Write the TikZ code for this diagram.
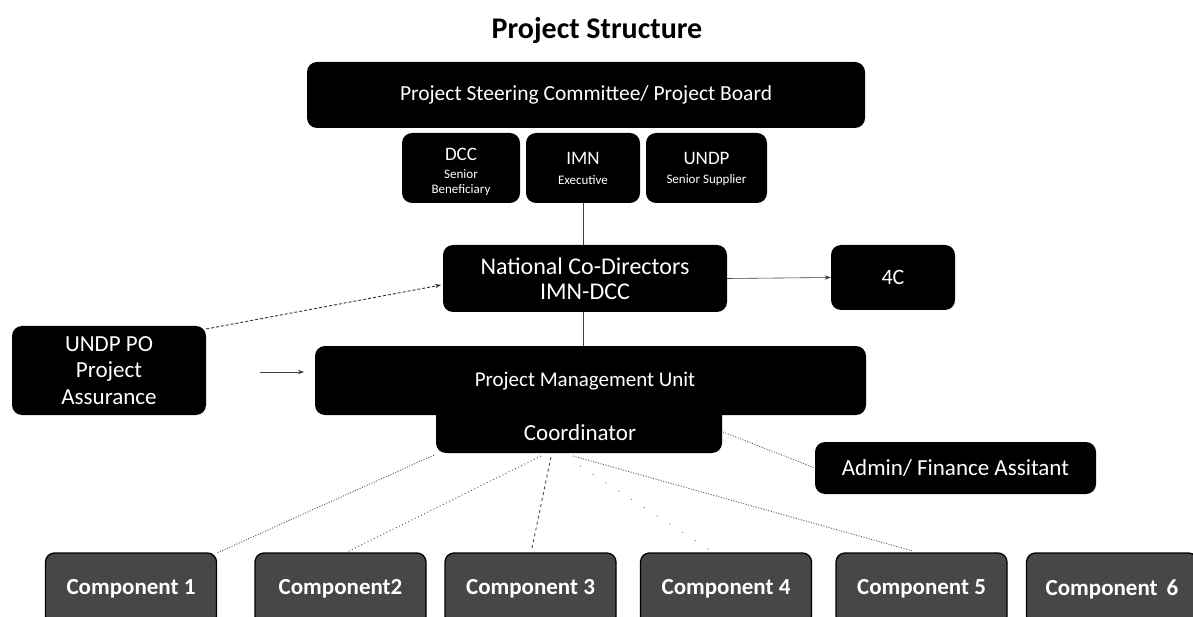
\documentclass[tikz,border=0pt]{standalone}
\usepackage{fontspec}
\setmainfont{Carlito}
\usetikzlibrary{arrows.meta}
\begin{document}
\begin{tikzpicture}[x=1pt,y=-1pt,
  box/.style={fill=black,text=white,rounded corners=10pt,inner sep=0pt,align=center},
  wtext/.style={text=white,inner sep=0pt,align=center},
  comp/.style={draw=black,line width=1.3pt,fill=black!72,text=white,rounded corners=9pt,
    font=\bfseries\fontsize{23}{23}\selectfont,minimum width=171pt,minimum height=72pt,inner sep=0pt},
  link/.style={black!75,line width=0.6pt},
  dotl/.style={black!65,line width=0.9pt,dash pattern=on 1pt off 1.6pt},
  arr/.style={-{Stealth[length=6pt,width=4.5pt]}}]
\useasboundingbox[fill=white] (0,0) rectangle (1193,617);

\node[font=\bfseries\fontsize{30}{30}\selectfont] (title) at (597,31) {Project Structure};

% Steering committee
\node[box,minimum width=558pt,minimum height=66pt,font=\fontsize{21.5}{21.5}\selectfont] (steer) at (586,95)
  {Project Steering Committee/ Project Board};

% three member boxes
\node[box,minimum width=118pt,minimum height=70pt] (dcc) at (461,168) {};
\node[box,minimum width=114pt,minimum height=70pt] (imn) at (583,168) {};
\node[box,minimum width=121pt,minimum height=70pt] (undp) at (706.5,168) {};
\node[wtext,font=\fontsize{19}{19}\selectfont] (dccA) at (461,154) {DCC};
\node[wtext,font=\fontsize{13}{15}\selectfont] (dccB) at (461,183) {Senior\\Beneficiary};
\node[wtext,font=\fontsize{19}{19}\selectfont] (imnA) at (583,158) {IMN};
\node[wtext,font=\fontsize{13}{15}\selectfont] (imnB) at (583,180) {Executive};
\node[wtext,font=\fontsize{19}{19}\selectfont] (undpA) at (706.5,158) {UNDP};
\node[wtext,font=\fontsize{13}{15}\selectfont] (undpB) at (706.5,180) {Senior Supplier};

% National co-directors and 4C
\node[box,minimum width=284pt,minimum height=67pt,font=\fontsize{24}{25}\selectfont] (ncd) at (585,278.5)
  {National Co-Directors\\IMN-DCC};
\node[box,minimum width=124pt,minimum height=65pt,font=\fontsize{22}{22}\selectfont] (c4c) at (893,277.5) {4C};

% UNDP PO
\node[box,minimum width=194pt,minimum height=89pt,font=\fontsize{23}{26.5}\selectfont] (po) at (109,370.5)
  {UNDP PO\\Project\\Assurance};

% PMU and coordinator
\node[box,minimum width=551pt,minimum height=69pt] (pmu) at (590.5,380.5) {};
\node[wtext,font=\fontsize{21}{21}\selectfont] (pmuT) at (585,381) {Project Management Unit};
\node[box,minimum width=286pt,minimum height=48pt] (coord) at (579,429) {};
\node[wtext,font=\fontsize{23}{23}\selectfont] (coordT) at (580,433) {Coordinator};

% Admin
\node[box,minimum width=281pt,minimum height=52pt,font=\fontsize{23}{23}\selectfont] (admin) at (955.5,468)
  {Admin/ Finance Assitant};

% Components
\node[comp] (k1) at (131,589) {Component 1};
\node[comp] (k2) at (340.5,589) {Component2};
\node[comp] (k3) at (530.5,589) {Component 3};
\node[comp] (k4) at (726,589) {Component 4};
\node[comp] (k5) at (921.5,589) {Component 5};
\node[comp] (k6) at (1112,589) {Component \,6};

% connectors
\coordinate (imnbot) at (583,203);
\coordinate (ncdtop) at (583,245);
\draw[link] (imnbot) -- (ncdtop);
\coordinate (ncdbot) at (583,312);
\coordinate (pmutop) at (583,346);
\draw[link] (ncdbot) -- (pmutop);
\draw[link,arr] (ncd.east) -- (c4c.west);
\coordinate (poNE) at (206,329);
\coordinate (ncdW) at (441,285);
\draw[black!80,line width=0.9pt,dash pattern=on 3pt off 2pt,arr] (poNE) -- (ncdW);
\coordinate (sa) at (260,372);
\coordinate (sb) at (304,372);
\draw[link,line width=0.8pt,arr] (sa) -- (sb);

\coordinate (s1) at (434,455);
\coordinate (s2) at (541,456);
\coordinate (s3) at (551,457);
\coordinate (s4) at (580,466);
\coordinate (s5) at (573,456);
\coordinate (s6) at (723,432);
\coordinate (e1) at (217,553);
\coordinate (e2) at (347,552);
\coordinate (e3) at (532,548);
\coordinate (e4) at (719,556);
\coordinate (e5) at (913,551);
\draw[dotl] (s1) -- (e1);
\draw[dotl,dash pattern=on 1pt off 2.5pt] (s2) -- (e2);
\draw[black!70,line width=0.9pt,dash pattern=on 3pt off 3pt] (s3) -- (e3);
\draw[black!45,line width=0.9pt,dash pattern=on 1.2pt off 14pt] (s4) -- (e4);
\draw[dotl] (s5) -- (e5);
\draw[dotl] (s6) -- (admin.west);
\end{tikzpicture}
\end{document}
